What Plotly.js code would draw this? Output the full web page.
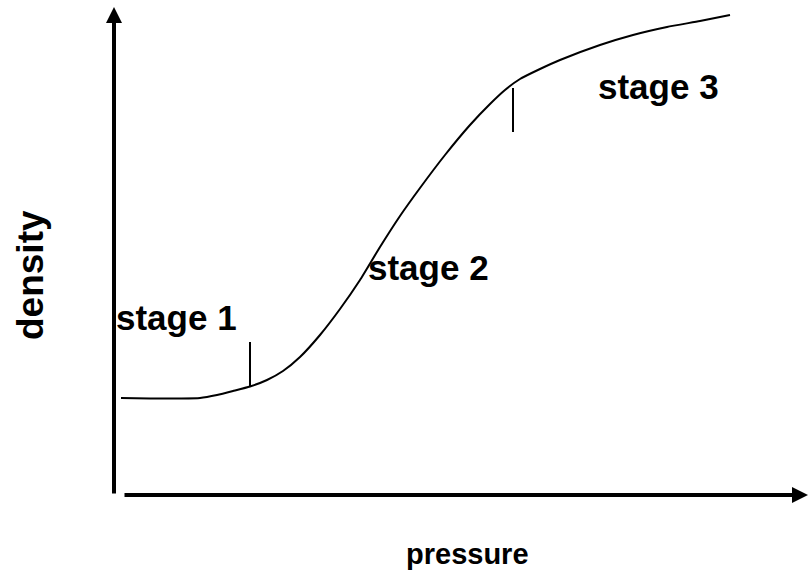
<!DOCTYPE html>
<html>
<head>
<meta charset="utf-8">
<script src="https://cdn.plot.ly/plotly-3.0.1.min.js"></script>
<style>html,body{margin:0;padding:0;background:#fff;}#chart{width:809px;height:583px;}</style>
</head>
<body>
<div id="chart"></div>
<script>
// Schematic curve: pressure (arbitrary units) vs density (arbitrary units)
const pressure = [7, 36, 66, 86, 103, 119, 136, 153, 169, 186, 206, 226, 246, 266, 286, 306, 331, 356, 376, 391, 406, 426, 446, 486, 519, 553, 586, 616];
const density  = [97, 96.5, 96.5, 97, 100, 104, 108.5, 115, 124, 138, 160, 186, 215, 248, 279, 307, 340, 370, 391, 405, 416, 426, 435, 450, 460, 468, 474, 480];

// Stage boundary markers (pressure position, density from/to)
const boundaryP = [136, 399];
const boundaryLow = [109, 363];
const boundaryHigh = [153, 407];

// Stage labels
const stageLabels = ["stage 1", "stage 2", "stage 3"];
const stageP = [62, 314, 544];
const stageD = [178, 228, 409];

// Axis extents
const xAxisEnd = 694;
const yAxisEnd = 488;

const font = {family: "Liberation Sans, Arial, sans-serif", color: "#000", weight: "bold"};

const traces = [{
  x: pressure, y: density, mode: "lines", type: "scatter",
  line: {color: "#000", width: 2, shape: "spline", smoothing: 0.5},
  hoverinfo: "skip"
}];

const shapes = boundaryP.map((p, i) => ({
  type: "line", xref: "x", yref: "y",
  x0: p, x1: p, y0: boundaryLow[i], y1: boundaryHigh[i],
  line: {color: "#000", width: 2}
}));

const annotations = [
  {x: 0, y: yAxisEnd, ax: 0, ay: 0, xref: "x", yref: "y", axref: "x", ayref: "y",
   showarrow: true, arrowhead: 2, arrowsize: 0.8, arrowwidth: 4, arrowcolor: "#000", text: "", standoff: 0},
  {x: xAxisEnd, y: 0, ax: 9, ay: 0, xref: "x", yref: "y", axref: "x", ayref: "y",
   showarrow: true, arrowhead: 2, arrowsize: 0.8, arrowwidth: 4, arrowcolor: "#000", text: "", standoff: 0},
  {x: 353, y: -59, xref: "x", yref: "y", text: "pressure", showarrow: false,
   font: Object.assign({size: 29}, font), xanchor: "center", yanchor: "middle"},
  {x: -84, y: 220, xref: "x", yref: "y", text: "density", showarrow: false, textangle: -90,
   font: Object.assign({size: 37}, font), xanchor: "center", yanchor: "middle"}
];
stageLabels.forEach((t, i) => annotations.push({
  x: stageP[i], y: stageD[i], xref: "x", yref: "y", text: t, showarrow: false,
  font: Object.assign({size: 35}, font), xanchor: "center", yanchor: "middle"
}));

const layout = {
  width: 809, height: 583,
  margin: {l: 0, r: 0, t: 0, b: 0},
  paper_bgcolor: "#fff", plot_bgcolor: "#fff",
  showlegend: false,
  xaxis: {range: [-114, 695], visible: false, fixedrange: true},
  yaxis: {range: [-88, 495], visible: false, fixedrange: true},
  shapes: shapes,
  annotations: annotations
};

Plotly.newPlot("chart", traces, layout, {displayModeBar: false, staticPlot: true});
</script>
</body>
</html>
